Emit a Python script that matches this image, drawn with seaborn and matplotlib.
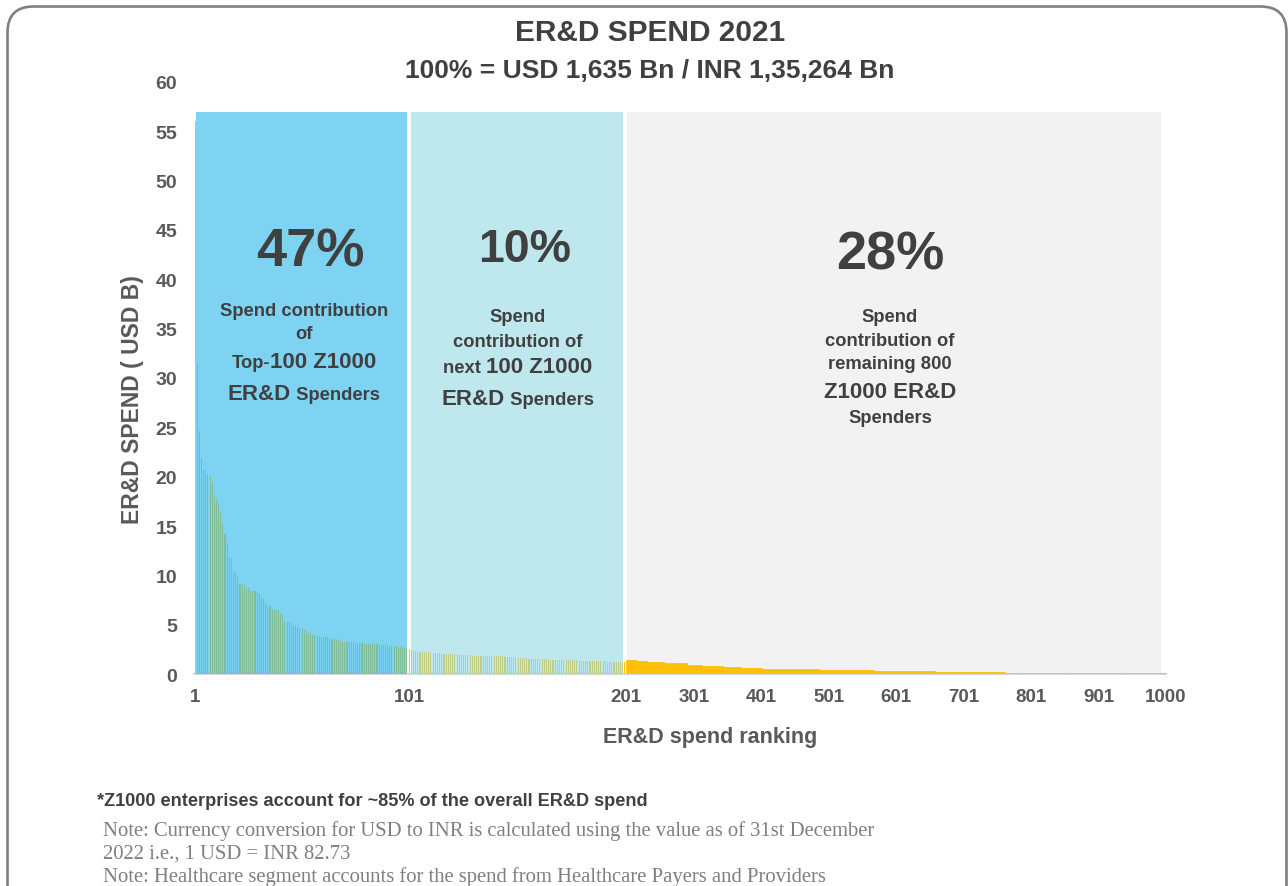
import numpy as np
import pandas as pd
import matplotlib
matplotlib.use("Agg")
import matplotlib.pyplot as plt
from matplotlib.patches import Rectangle, FancyBboxPatch
from matplotlib.transforms import IdentityTransform
import seaborn as sns

# ---------------- data ----------------
top100_spend = [
    56.0, 31.5, 24.6, 21.9, 20.8, 20.7, 20.3, 20.2, 19.5, 17.9,
    17.7, 17.3, 16.5, 15.2, 14.2, 13.3, 11.9, 11.8, 10.4, 10.3,
    9.8, 9.1, 9.1, 8.9, 8.7, 8.7, 8.4, 8.4, 8.4, 8.2,
    8.1, 7.8, 7.6, 7.2, 7.0, 6.9, 6.6, 6.5, 6.5, 6.5,
    6.2, 6.0, 5.4, 5.3, 5.3, 5.2, 5.0, 5.0, 4.8, 4.7,
    4.7, 4.5, 4.4, 4.2, 4.2, 4.0, 4.0, 3.9, 3.9, 3.8,
    3.8, 3.7, 3.7, 3.6, 3.5, 3.5, 3.5, 3.4, 3.3, 3.2,
    3.2, 3.2, 3.2, 3.2, 3.2, 3.1, 3.1, 3.1, 3.1, 3.1,
    3.0, 3.0, 3.0, 3.0, 3.0, 3.0, 2.9, 2.9, 2.9, 2.9,
    2.9, 2.8, 2.8, 2.8, 2.8, 2.7, 2.7, 2.7, 2.6, 2.6,
]
next100_spend = [
    2.50, 2.40, 2.30, 2.30, 2.22, 2.21, 2.20, 2.20, 2.19, 2.18,
    2.12, 2.11, 2.10, 2.10, 2.09, 2.04, 2.03, 2.03, 2.02, 2.02,
    2.01, 2.00, 2.00, 1.95, 1.94, 1.93, 1.93, 1.88, 1.88, 1.87,
    1.87, 1.86, 1.86, 1.86, 1.85, 1.85, 1.85, 1.80, 1.79, 1.79,
    1.79, 1.78, 1.78, 1.78, 1.71, 1.70, 1.70, 1.69, 1.69, 1.68,
    1.63, 1.62, 1.62, 1.61, 1.61, 1.53, 1.53, 1.52, 1.52, 1.52,
    1.51, 1.51, 1.50, 1.50, 1.43, 1.43, 1.43, 1.42, 1.42, 1.42,
    1.42, 1.42, 1.41, 1.41, 1.41, 1.41, 1.40, 1.40, 1.33, 1.33,
    1.33, 1.32, 1.32, 1.32, 1.32, 1.31, 1.31, 1.31, 1.31, 1.30,
    1.30, 1.26, 1.26, 1.25, 1.25, 1.25, 1.24, 1.24, 1.24, 1.23,
]
# ranks 201-1000: step levels and how many ranks share each level
tail_levels = [1.43, 1.32, 1.25, 1.07, 0.96, 0.86, 0.71, 0.61, 0.54, 0.46,
               0.36, 0.29, 0.20, 0.13]
tail_counts = [17, 14, 25, 35, 22, 30, 28, 30, 30, 55, 82, 90, 104, 238]

tick_ranks = [1, 101, 201, 301, 401, 501, 601, 701, 801, 901, 1000]
y_ticks = list(range(0, 61, 5))
segment_shares = ["47%", "10%", "28%"]

# ---------------- figure setup ----------------
W, H, DPI = 1288, 887, 100
sns.set_theme(style="white")
plt.rcParams['font.family'] = ['Liberation Sans', 'DejaVu Sans']

fig = plt.figure(figsize=(W / DPI, H / DPI), dpi=DPI)
fig.patch.set_facecolor("white")

AX_L, AX_R, AX_T, AX_B = 194, 1166, 83, 675
ax = fig.add_axes([AX_L / W, 1 - AX_B / H, (AX_R - AX_L) / W, (AX_B - AX_T) / H])
ax.set_facecolor("white")

YEL = "#FFC000"
df12 = pd.DataFrame({"rank": np.arange(1, 201),
                     "spend": top100_spend + next100_spend})
df3 = pd.DataFrame({"rank": np.arange(201, 1001),
                    "spend": np.repeat(tail_levels, tail_counts)})

sns.barplot(data=df12, x="rank", y="spend", native_scale=True, width=0.5,
            color=YEL, saturation=1, errorbar=None, linewidth=0, zorder=2, ax=ax)
sns.barplot(data=df3, x="rank", y="spend", native_scale=True, width=1.0,
            color=YEL, saturation=1, errorbar=None, linewidth=0.4,
            edgecolor=YEL, zorder=2, ax=ax)

# piecewise (broken) rank scale
edges_rank = np.array([0.5, 100.5, 200.5, 1000.5])
edges_pos = np.array([0.0, 214.0, 432.0, 972.0])
s_lo = (edges_pos[1] - edges_pos[0]) / (edges_rank[1] - edges_rank[0])
s_hi = (edges_pos[3] - edges_pos[2]) / (edges_rank[3] - edges_rank[2])


def fwd(r):
    r = np.asarray(r, dtype=float)
    out = np.interp(r, edges_rank, edges_pos)
    out = np.where(r < edges_rank[0], edges_pos[0] + (r - edges_rank[0]) * s_lo, out)
    out = np.where(r > edges_rank[-1], edges_pos[-1] + (r - edges_rank[-1]) * s_hi, out)
    return out


def inv(p):
    p = np.asarray(p, dtype=float)
    out = np.interp(p, edges_pos, edges_rank)
    out = np.where(p < edges_pos[0], edges_rank[0] + (p - edges_pos[0]) / s_lo, out)
    out = np.where(p > edges_pos[-1], edges_rank[-1] + (p - edges_pos[-1]) / s_hi, out)
    return out


ax.set_xscale("function", functions=(fwd, inv))
ax.set_xlim(0.5, 1000.5)
ax.set_ylim(0, 60)

# segment backgrounds
ax.add_patch(Rectangle((1.43, 0), 100.2 - 1.43, 57, facecolor="#39BCEC",
                       alpha=0.65, lw=0, zorder=3))
ax.add_patch(Rectangle((101.9, 0), 198.97 - 101.9, 57, facecolor="#93D8E3",
                       alpha=0.6, lw=0, zorder=3))
ax.add_patch(Rectangle((202.4, 0), 993 - 202.4, 57, facecolor="#F2F2F2",
                       lw=0, zorder=1))

# axes styling
TICKC = "#595959"
ax.set_xticks(tick_ranks)
ax.set_xticklabels([str(t) for t in tick_ranks])
ax.set_yticks(y_ticks)
ax.set_yticklabels([str(t) for t in y_ticks])
ax.tick_params(axis="x", length=0, pad=10, labelsize=13.5, labelcolor=TICKC)
ax.tick_params(axis="y", length=0, pad=12, labelsize=14, labelcolor=TICKC)
for lab in ax.get_xticklabels() + ax.get_yticklabels():
    lab.set_fontweight("bold")
for s in ["left", "top", "right"]:
    ax.spines[s].set_visible(False)
ax.spines["bottom"].set_color("#D9D9D9")
ax.spines["bottom"].set_linewidth(1.6)
ax.spines["bottom"].set_zorder(0.5)
ax.set_xlabel("")
ax.set_ylabel("")
ax.grid(False)

ID = IdentityTransform()
TXT = "#404040"


def ptext(x, ytop, s, **kw):
    return fig.text(x, H - ytop, s, transform=ID, **kw)


# axis titles
ptext(133, 400, "ER&D SPEND ( USD B)", rotation=90, ha="center", va="center",
      fontsize=16.5, fontweight="bold", color=TICKC)
ptext(710, 738, "ER&D spend ranking", ha="center", va="center",
      fontsize=15.5, fontweight="bold", color=TICKC)

# chart title
ptext(650, 41.5, "ER&D SPEND 2021", ha="center", va="baseline",
      fontsize=21.5, fontweight="bold", color=TXT)
ptext(650, 78, "100% = USD 1,635 Bn / INR 1,35,264 Bn", ha="center",
      va="baseline", fontsize=19, fontweight="bold", color=TXT)

# big percentages
ptext(310, 266.7, segment_shares[0], ha="center", va="baseline",
      fontsize=39, fontweight="bold", color=TXT)
ptext(525, 262, segment_shares[1], ha="center", va="baseline",
      fontsize=33.5, fontweight="bold", color=TXT)
ptext(890, 269.3, segment_shares[2], ha="center", va="baseline",
      fontsize=39, fontweight="bold", color=TXT)

renderer = fig.canvas.get_renderer()


def mixed_line(xc, ybase, parts):
    objs, widths = [], []
    for s, size in parts:
        t = ptext(0, ybase, s, ha="left", va="baseline", fontsize=size,
                  fontweight="bold", color=TXT)
        objs.append(t)
        widths.append(t.get_window_extent(renderer).width)
    x = xc - sum(widths) / 2
    for t, w in zip(objs, widths):
        t.set_position((x, H - ybase))
        x += w


S, L = 13.2, 16
mixed_line(304, 316, [("Spend contribution", S)])
mixed_line(304, 339.3, [("of", S)])
mixed_line(304, 368.3, [("Top-", S), ("100 Z1000", L)])
mixed_line(304, 400, [("ER&D", L), (" Spenders", S)])

mixed_line(518, 321.7, [("Spend", S)])
mixed_line(518, 346.7, [("contribution of", S)])
mixed_line(518, 373.3, [("next ", S), ("100 Z1000", L)])
mixed_line(518, 405, [("ER&D", L), (" Spenders", S)])

mixed_line(890, 321.7, [("Spend", S)])
mixed_line(890, 346, [("contribution of", S)])
mixed_line(890, 369.3, [("remaining 800", S)])
mixed_line(890, 398.3, [("Z1000 ER&D", L)])
mixed_line(890, 423.3, [("Spenders", S)])

# footnotes
ptext(97, 806, "*Z1000 enterprises account for ~85% of the overall ER&D spend",
      ha="left", va="baseline", fontsize=13.1, fontweight="bold", color=TXT)
NOTE = "#7F7F7F"
notes = [
    "Note: Currency conversion for USD to INR is calculated using the value as of 31st December",
    "2022 i.e., 1 USD = INR 82.73",
    "Note: Healthcare segment accounts for the spend from Healthcare Payers and Providers",
]
for i, line in enumerate(notes):
    ptext(103, 836 + i * 23, line, ha="left", va="baseline", fontsize=14.9,
          color=NOTE, family=["Liberation Serif", "DejaVu Serif"])

# rounded outer frame
frame = FancyBboxPatch((7.5, -60), 1279, (H - 7.5) + 60,
                       boxstyle="round,pad=0,rounding_size=26",
                       transform=ID, facecolor="none", edgecolor="#808080",
                       linewidth=1.9)
fig.add_artist(frame)

fig.savefig("out.png", dpi=DPI, facecolor="white")
